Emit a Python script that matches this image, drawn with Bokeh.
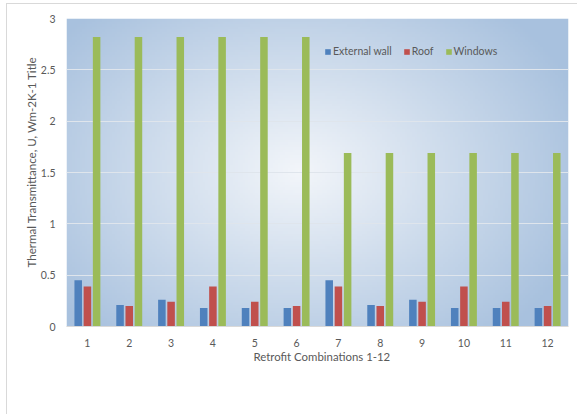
import numpy as np
from bokeh.plotting import figure
from bokeh.models import ColumnDataSource, FactorRange, Legend, LegendItem, Range1d, InlineStyleSheet, Title
from bokeh.transform import dodge
from bokeh.embed import file_html
from bokeh.resources import INLINE

combos = [str(i) for i in range(1, 13)]
external_wall = [0.45, 0.21, 0.26, 0.18, 0.18, 0.18, 0.45, 0.21, 0.26, 0.18, 0.18, 0.18]
roof = [0.39, 0.20, 0.24, 0.39, 0.24, 0.20, 0.39, 0.20, 0.24, 0.39, 0.24, 0.20]
windows = [2.82, 2.82, 2.82, 2.82, 2.82, 2.82, 1.69, 1.69, 1.69, 1.69, 1.69, 1.69]
y_ticks = [0, 0.5, 1, 1.5, 2, 2.5, 3]
x_title = "Retrofit Combinations 1-12"
y_title = "Thermal Transmittance, U, Wm-2K-1 Title"

FONT = "Lato"
GREY = "#595959"

src = ColumnDataSource(dict(x=combos, wall=external_wall, roof=roof, win=windows))

p = figure(width=577, height=414, x_range=FactorRange(*combos, range_padding=0),
           y_range=Range1d(0, 3), output_backend="svg", toolbar_location=None,
           min_border_left=66, min_border_right=9, min_border_top=18, min_border_bottom=88)
p.outline_line_color = None
p.background_fill_color = "white"
p.border_fill_color = "white"

# chart-area border (decoration only)
p.stylesheets = [InlineStyleSheet(css=(
    ":host::after { content: ''; position: absolute; left: 6px; top: 3px; right: 0; bottom: 0;"
    " border-left: 1px solid #d9d9d9; border-top: 1px solid #d9d9d9; pointer-events: none; }"))]

# radial gradient background for plot area
ny, nx = 120, 200
yy, xx = np.mgrid[0:ny, 0:nx]
cx, cy = 0.46 * nx, 0.50 * ny
d = np.sqrt(((xx - cx) / (0.60 * nx)) ** 2 + ((yy - cy) / (0.72 * ny)) ** 2)
d = np.clip(d, 0, 1)
c0 = np.array([243, 246, 250])
c1 = np.array([168, 193, 222])
img = np.zeros((ny, nx), dtype=np.uint32)
view = img.view(dtype=np.uint8).reshape((ny, nx, 4))
for k in range(3):
    view[:, :, k] = (c0[k] + (c1[k] - c0[k]) * d).astype(np.uint8)
view[:, :, 3] = 255
p.image_rgba(image=[img], x=0, y=0, dw=12, dh=3, level="image")

p.ygrid.grid_line_color = "#dfe5ec"
p.ygrid.grid_line_width = 1
p.ygrid.level = "image"
p.xgrid.grid_line_color = None

bw = 0.18
r1 = p.vbar(x=dodge("x", -0.22, range=p.x_range), top="wall", width=bw, source=src,
            fill_color="#4f81bd", line_color=None)
r2 = p.vbar(x=dodge("x", 0.0, range=p.x_range), top="roof", width=bw, source=src,
            fill_color="#c0504d", line_color=None)
r3 = p.vbar(x=dodge("x", 0.22, range=p.x_range), top="win", width=bw, source=src,
            fill_color="#9bbb59", line_color=None)

legend = Legend(items=[LegendItem(label="External wall", renderers=[r1]),
                       LegendItem(label="Roof", renderers=[r2]),
                       LegendItem(label="Windows", renderers=[r3])],
                orientation="horizontal", location=(258, 269))
legend.background_fill_alpha = 0
legend.border_line_color = None
legend.glyph_width = 7
legend.glyph_height = 7
legend.label_text_font = FONT
legend.label_text_font_size = "10.5px"
legend.label_text_color = GREY
legend.label_standoff = 2
legend.spacing = 11
legend.padding = 0
legend.margin = 0
p.add_layout(legend, "center")

p.yaxis.ticker = y_ticks
p.yaxis.major_label_overrides = {0: "0", 0.5: "0.5", 1: "1", 1.5: "1.5", 2: "2", 2.5: "2.5", 3: "3"}
p.yaxis.axis_line_color = None
p.yaxis.major_tick_line_color = None
p.yaxis.minor_tick_line_color = None
p.yaxis.major_label_text_font = FONT
p.yaxis.major_label_text_font_size = "10.5px"
p.yaxis.major_label_text_color = GREY

p.xaxis.axis_line_color = "#d9d9d9"
p.xaxis.major_tick_line_color = None
p.xaxis.minor_tick_line_color = None
p.xaxis.major_label_text_font = FONT
p.xaxis.major_label_text_font_size = "10.5px"
p.xaxis.major_label_text_color = GREY
p.xaxis.major_label_standoff = 6

yt = Title(text=y_title, align="left", offset=59, standoff=0,
           text_font=FONT, text_font_style="normal", text_font_size="11.6px",
           text_color=GREY)
p.add_layout(yt, "left")
xt = Title(text=x_title, align="left", offset=187, standoff=-3,
           text_font=FONT, text_font_style="normal", text_font_size="11.4px",
           text_color=GREY)
p.add_layout(xt, "below")

open("out.html", "w").write(file_html(p, INLINE))
